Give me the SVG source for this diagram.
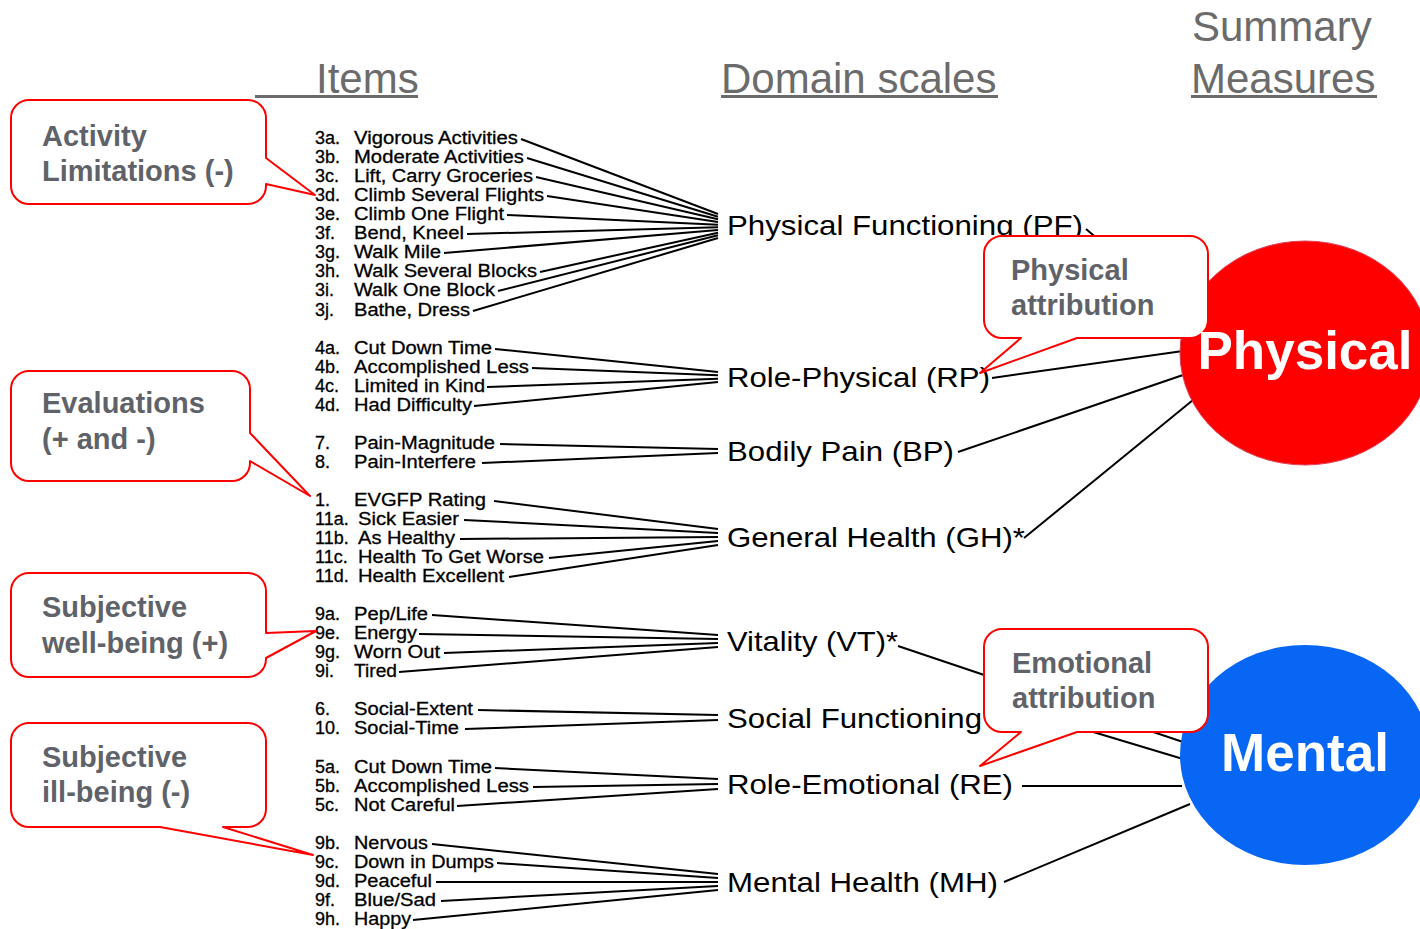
<svg xmlns="http://www.w3.org/2000/svg" width="1420" height="929" viewBox="0 0 1420 929">
<style>
.hdr{font-family:"Liberation Sans",Arial,sans-serif;font-size:42px;fill:#6b6b6b}
.ul{fill:#6b6b6b}
.it{font-family:"Liberation Sans",Arial,sans-serif;font-size:18px;fill:#000;stroke:#000;stroke-width:0.3}
.dm{font-family:"Liberation Sans",Arial,sans-serif;font-size:28px;fill:#000}
.fan line{stroke:#000;stroke-width:2}
.con line{stroke:#000;stroke-width:2}
.co{fill:#fff;stroke:#ff0000;stroke-width:2;stroke-linejoin:round}
.ct{font-family:"Liberation Sans",Arial,sans-serif;font-size:29px;font-weight:bold;fill:#5f6369}
.big{font-family:"Liberation Sans",Arial,sans-serif;font-size:53px;font-weight:bold;fill:#fff;text-anchor:middle}
</style>
<rect width="1420" height="929" fill="#fff"/>
<g id="headers">
<text class="hdr" x="316" y="93">Items</text>
<rect class="ul" x="255" y="95" width="163" height="3"/>
<text class="hdr" x="721" y="93">Domain scales</text>
<rect class="ul" x="721" y="95" width="277" height="3"/>
<text class="hdr" x="1192" y="41">Summary</text>
<text class="hdr" x="1191" y="93">Measures</text>
<rect class="ul" x="1191" y="95" width="186" height="3"/>
</g>
<g id="connectors">
<g class="fan">
<line x1="521" y1="139" x2="718" y2="214"/>
<line x1="527" y1="158" x2="718" y2="216.7"/>
<line x1="536" y1="177" x2="718" y2="219.3"/>
<line x1="547" y1="196" x2="718" y2="222"/>
<line x1="507" y1="215" x2="718" y2="224.7"/>
<line x1="467" y1="234" x2="718" y2="227.3"/>
<line x1="444" y1="253" x2="718" y2="230"/>
<line x1="540" y1="272" x2="718" y2="232.7"/>
<line x1="498" y1="291" x2="718" y2="235.3"/>
<line x1="473" y1="311" x2="718" y2="238"/>
<line x1="495" y1="349" x2="718" y2="372"/>
<line x1="532" y1="368" x2="718" y2="375.3"/>
<line x1="487" y1="387" x2="718" y2="378.7"/>
<line x1="474" y1="406" x2="718" y2="382"/>
<line x1="500" y1="444" x2="718" y2="449"/>
<line x1="482" y1="463" x2="718" y2="453"/>
<line x1="494" y1="501" x2="718" y2="529"/>
<line x1="464" y1="520" x2="718" y2="533"/>
<line x1="460" y1="539" x2="718" y2="537"/>
<line x1="549" y1="558" x2="718" y2="541"/>
<line x1="509" y1="577" x2="718" y2="545"/>
<line x1="432" y1="615" x2="718" y2="635"/>
<line x1="419" y1="634" x2="718" y2="639"/>
<line x1="444" y1="653" x2="718" y2="643"/>
<line x1="399" y1="672" x2="718" y2="647"/>
<line x1="478" y1="710" x2="718" y2="715"/>
<line x1="465" y1="729" x2="718" y2="720"/>
<line x1="495" y1="768" x2="718" y2="779"/>
<line x1="533" y1="787" x2="718" y2="784"/>
<line x1="457" y1="806" x2="718" y2="789"/>
<line x1="432" y1="844" x2="718" y2="874"/>
<line x1="497" y1="863" x2="718" y2="878"/>
<line x1="436" y1="882" x2="718" y2="882"/>
<line x1="441" y1="901" x2="718" y2="886"/>
<line x1="413" y1="920" x2="718" y2="890"/>
</g>
<g class="con">
<line x1="1086" y1="229" x2="1205" y2="330"/>
<line x1="992" y1="378" x2="1183" y2="351"/>
<line x1="958" y1="452" x2="1183" y2="375"/>
<line x1="1024" y1="538" x2="1193" y2="400"/>
<line x1="898" y1="646" x2="1183" y2="742"/>
<line x1="1060" y1="722" x2="1183" y2="759"/>
<line x1="1022" y1="786" x2="1182" y2="786"/>
<line x1="1004" y1="882" x2="1190" y2="804"/>
</g>
</g>
<g id="items">
<text class="it" x="315" y="144">3a.</text><text class="it" x="354" y="144" textLength="164" lengthAdjust="spacingAndGlyphs">Vigorous Activities</text>
<text class="it" x="315" y="163">3b.</text><text class="it" x="354" y="163" textLength="170" lengthAdjust="spacingAndGlyphs">Moderate Activities</text>
<text class="it" x="315" y="182">3c.</text><text class="it" x="354" y="182" textLength="179" lengthAdjust="spacingAndGlyphs">Lift, Carry Groceries</text>
<text class="it" x="315" y="201">3d.</text><text class="it" x="354" y="201" textLength="190" lengthAdjust="spacingAndGlyphs">Climb Several Flights</text>
<text class="it" x="315" y="220">3e.</text><text class="it" x="354" y="220" textLength="150" lengthAdjust="spacingAndGlyphs">Climb One Flight</text>
<text class="it" x="315" y="239">3f.</text><text class="it" x="354" y="239" textLength="110" lengthAdjust="spacingAndGlyphs">Bend, Kneel</text>
<text class="it" x="315" y="258">3g.</text><text class="it" x="354" y="258" textLength="87" lengthAdjust="spacingAndGlyphs">Walk Mile</text>
<text class="it" x="315" y="277">3h.</text><text class="it" x="354" y="277" textLength="183" lengthAdjust="spacingAndGlyphs">Walk Several Blocks</text>
<text class="it" x="315" y="296">3i.</text><text class="it" x="354" y="296" textLength="141" lengthAdjust="spacingAndGlyphs">Walk One Block</text>
<text class="it" x="315" y="316">3j.</text><text class="it" x="354" y="316" textLength="116" lengthAdjust="spacingAndGlyphs">Bathe, Dress</text>
<text class="it" x="315" y="354">4a.</text><text class="it" x="354" y="354" textLength="138" lengthAdjust="spacingAndGlyphs">Cut Down Time</text>
<text class="it" x="315" y="373">4b.</text><text class="it" x="354" y="373" textLength="175" lengthAdjust="spacingAndGlyphs">Accomplished Less</text>
<text class="it" x="315" y="392">4c.</text><text class="it" x="354" y="392" textLength="131" lengthAdjust="spacingAndGlyphs">Limited in Kind</text>
<text class="it" x="315" y="411">4d.</text><text class="it" x="354" y="411" textLength="118" lengthAdjust="spacingAndGlyphs">Had Difficulty</text>
<text class="it" x="315" y="449">7.</text><text class="it" x="354" y="449" textLength="141" lengthAdjust="spacingAndGlyphs">Pain-Magnitude</text>
<text class="it" x="315" y="468">8.</text><text class="it" x="354" y="468" textLength="122" lengthAdjust="spacingAndGlyphs">Pain-Interfere</text>
<text class="it" x="315" y="506">1.</text><text class="it" x="354" y="506" textLength="132" lengthAdjust="spacingAndGlyphs">EVGFP Rating</text>
<text class="it" x="315" y="525">11a.</text><text class="it" x="358" y="525" textLength="101" lengthAdjust="spacingAndGlyphs">Sick Easier</text>
<text class="it" x="315" y="544">11b.</text><text class="it" x="358" y="544" textLength="97" lengthAdjust="spacingAndGlyphs">As Healthy</text>
<text class="it" x="315" y="563">11c.</text><text class="it" x="358" y="563" textLength="186" lengthAdjust="spacingAndGlyphs">Health To Get Worse</text>
<text class="it" x="315" y="582">11d.</text><text class="it" x="358" y="582" textLength="146" lengthAdjust="spacingAndGlyphs">Health Excellent</text>
<text class="it" x="315" y="620">9a.</text><text class="it" x="354" y="620" textLength="74" lengthAdjust="spacingAndGlyphs">Pep/Life</text>
<text class="it" x="315" y="639">9e.</text><text class="it" x="354" y="639" textLength="63" lengthAdjust="spacingAndGlyphs">Energy</text>
<text class="it" x="315" y="658">9g.</text><text class="it" x="354" y="658" textLength="86" lengthAdjust="spacingAndGlyphs">Worn Out</text>
<text class="it" x="315" y="677">9i.</text><text class="it" x="354" y="677" textLength="43" lengthAdjust="spacingAndGlyphs">Tired</text>
<text class="it" x="315" y="715">6.</text><text class="it" x="354" y="715" textLength="119" lengthAdjust="spacingAndGlyphs">Social-Extent</text>
<text class="it" x="315" y="734">10.</text><text class="it" x="354" y="734" textLength="105" lengthAdjust="spacingAndGlyphs">Social-Time</text>
<text class="it" x="315" y="773">5a.</text><text class="it" x="354" y="773" textLength="138" lengthAdjust="spacingAndGlyphs">Cut Down Time</text>
<text class="it" x="315" y="792">5b.</text><text class="it" x="354" y="792" textLength="175" lengthAdjust="spacingAndGlyphs">Accomplished Less</text>
<text class="it" x="315" y="811">5c.</text><text class="it" x="354" y="811" textLength="101" lengthAdjust="spacingAndGlyphs">Not Careful</text>
<text class="it" x="315" y="849">9b.</text><text class="it" x="354" y="849" textLength="74" lengthAdjust="spacingAndGlyphs">Nervous</text>
<text class="it" x="315" y="868">9c.</text><text class="it" x="354" y="868" textLength="140" lengthAdjust="spacingAndGlyphs">Down in Dumps</text>
<text class="it" x="315" y="887">9d.</text><text class="it" x="354" y="887" textLength="78" lengthAdjust="spacingAndGlyphs">Peaceful</text>
<text class="it" x="315" y="906">9f.</text><text class="it" x="354" y="906" textLength="82" lengthAdjust="spacingAndGlyphs">Blue/Sad</text>
<text class="it" x="315" y="925">9h.</text><text class="it" x="354" y="925" textLength="57" lengthAdjust="spacingAndGlyphs">Happy</text>
</g>
<g id="domains">
<text id="PF" class="dm" x="727" y="235" textLength="356" lengthAdjust="spacingAndGlyphs">Physical Functioning (PF)</text>
<text id="RP" class="dm" x="727" y="387" textLength="263" lengthAdjust="spacingAndGlyphs">Role-Physical (RP)</text>
<text id="BP" class="dm" x="727" y="461" textLength="227" lengthAdjust="spacingAndGlyphs">Bodily Pain (BP)</text>
<text id="GH" class="dm" x="727" y="547" textLength="298" lengthAdjust="spacingAndGlyphs">General Health (GH)*</text>
<text id="VT" class="dm" x="727" y="651" textLength="171" lengthAdjust="spacingAndGlyphs">Vitality (VT)*</text>
<text id="SF" class="dm" x="727" y="728" textLength="255" lengthAdjust="spacingAndGlyphs">Social Functioning</text>
<text id="RE" class="dm" x="727" y="794" textLength="286" lengthAdjust="spacingAndGlyphs">Role-Emotional (RE)</text>
<text id="MH" class="dm" x="727" y="892" textLength="271" lengthAdjust="spacingAndGlyphs">Mental Health (MH)</text>
</g>
<g id="physical">
<ellipse cx="1305" cy="353" rx="125" ry="112" fill="#ff0000" stroke="#e0405a" stroke-width="1"/>
</g>
<g id="mental">
<ellipse cx="1305" cy="755" rx="125" ry="110" fill="#0866f5"/>
<text class="big" x="1305" y="771">Mental</text>
</g>
<g id="callout-activity">
<path class="co" d="M29,100 H248 A18,18 0 0 1 266,118 V158 L315,195 L266,184 V186 A18,18 0 0 1 248,204 H29 A18,18 0 0 1 11,186 V118 A18,18 0 0 1 29,100 Z"/>
<text class="ct" x="42" y="146">Activity</text>
<text class="ct" x="42" y="181">Limitations (-)</text>
</g>
<g id="callout-evaluations">
<path class="co" d="M29,371 H232 A18,18 0 0 1 250,389 V433 L310,496 L250,461 V463 A18,18 0 0 1 232,481 H29 A18,18 0 0 1 11,463 V389 A18,18 0 0 1 29,371 Z"/>
<text class="ct" x="42" y="413">Evaluations</text>
<text class="ct" x="42" y="449">(+ and -)</text>
</g>
<g id="callout-wellbeing">
<path class="co" d="M29,573 H248 A18,18 0 0 1 266,591 V633 L316,631 L266,658 V659 A18,18 0 0 1 248,677 H29 A18,18 0 0 1 11,659 V591 A18,18 0 0 1 29,573 Z"/>
<text class="ct" x="42" y="617">Subjective</text>
<text class="ct" x="42" y="653">well-being (+)</text>
</g>
<g id="callout-illbeing">
<path class="co" d="M29,723 H248 A18,18 0 0 1 266,741 V809 A18,18 0 0 1 248,827 H223 L313,855 L160,827 H29 A18,18 0 0 1 11,809 V741 A18,18 0 0 1 29,723 Z"/>
<text class="ct" x="42" y="767">Subjective</text>
<text class="ct" x="42" y="802">ill-being (-)</text>
</g>
<g id="callout-physical">
<path class="co" d="M1002,236 H1190 A18,18 0 0 1 1208,254 V320 A18,18 0 0 1 1190,338 H1077 L980,373 L1021,338 H1002 A18,18 0 0 1 984,320 V254 A18,18 0 0 1 1002,236 Z"/>
<text class="ct" x="1011" y="280">Physical</text>
<text class="ct" x="1011" y="315">attribution</text>
</g>
<g id="physical-label">
<text class="big" x="1305" y="369">Physical</text>
</g>
<g id="callout-emotional">
<path class="co" d="M1002,629 H1190 A18,18 0 0 1 1208,647 V714 A18,18 0 0 1 1190,732 H1077 L980,766 L1021,732 H1002 A18,18 0 0 1 984,714 V647 A18,18 0 0 1 1002,629 Z"/>
<text class="ct" x="1012" y="673">Emotional</text>
<text class="ct" x="1012" y="708">attribution</text>
</g>
</svg>
